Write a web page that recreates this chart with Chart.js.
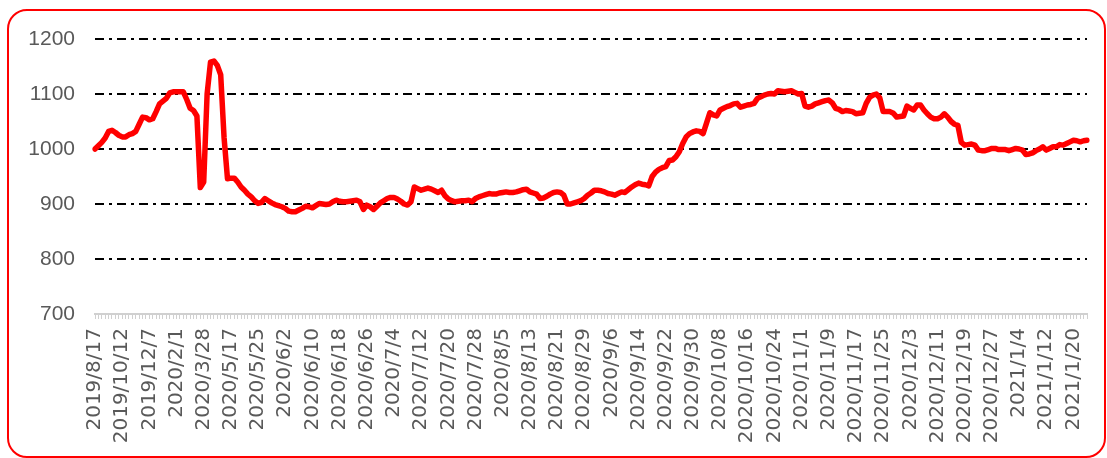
<!DOCTYPE html>
<html lang="zh">
<head>
<meta charset="UTF-8" />
<title>Index chart</title>
<script src="https://cdn.jsdelivr.net/npm/chart.js"></script>
<style>
  html, body { margin: 0; padding: 0; background: #fff; }
  .wrap { position: relative; width: 1107px; height: 458px; overflow: hidden; }
  .frame { position: absolute; left: 7px; top: 9px; width: 1095px; height: 445px;
           border: 2px solid #ff0000; border-radius: 20px; pointer-events: none; }
</style>
</head>
<body>
<div class="wrap">
  <canvas id="indexChart"></canvas>
  <div class="frame"></div>
</div>
<script>
// weekly dates up to mid May 2020, then daily dates
const weeklyDates = [
  '2019/8/17', '2019/8/24', '2019/8/31', '2019/9/7', '2019/9/14', '2019/9/21', '2019/9/28', '2019/10/5',
  '2019/10/12', '2019/10/19', '2019/10/26', '2019/11/2', '2019/11/9', '2019/11/16', '2019/11/23', '2019/11/30',
  '2019/12/7', '2019/12/14', '2019/12/21', '2019/12/28', '2020/1/4', '2020/1/11', '2020/1/18', '2020/1/25',
  '2020/2/1', '2020/2/8', '2020/2/15', '2020/2/22', '2020/2/29', '2020/3/7', '2020/3/14', '2020/3/21',
  '2020/3/28', '2020/4/4', '2020/4/11', '2020/4/18', '2020/4/25', '2020/5/2', '2020/5/9', '2020/5/16'
];
const dailyStart = [2020, 5, 17];
const dailyEnd = [2021, 1, 24];

// index values, one per date
const indexValues = [
  1000, 1006, 1012, 1020, 1032, 1034, 1030, 1025, 1022, 1022,
  1026, 1028, 1032, 1045, 1058, 1057, 1053, 1055, 1068, 1082,
  1087, 1092, 1102, 1104, 1104, 1104, 1104, 1090, 1074, 1070,
  1060, 930, 940, 1100, 1158, 1160, 1152, 1135, 1020, 946,
  947, 947, 940, 931, 925, 918, 913, 906, 901, 903,
  910, 906, 902, 899, 897, 895, 892, 887, 886, 886,
  889, 892, 896, 895, 893, 897, 901, 900, 899, 900,
  904, 907, 905, 904, 904, 905, 906, 907, 904, 890,
  898, 895, 890, 896, 902, 906, 910, 912, 912, 909,
  905, 900, 898, 904, 931, 928, 925, 927, 929, 927,
  924, 921, 925, 915, 909, 906, 904, 905, 906, 906,
  907, 904, 910, 913, 915, 917, 919, 918, 918, 920,
  921, 922, 921, 921, 922, 924, 926, 927, 922, 920,
  918, 910, 911, 914, 918, 921, 922, 921, 916, 900,
  900, 902, 904, 906, 910, 916, 920, 925, 925, 924,
  922, 919, 918, 916, 919, 922, 921, 926, 931, 935,
  938, 936, 935, 933, 950, 958, 963, 966, 968, 979,
  980, 986, 995, 1010, 1022, 1028, 1031, 1033, 1032, 1028,
  1047, 1066, 1062, 1060, 1071, 1074, 1077, 1079, 1082, 1083,
  1076, 1078, 1080, 1081, 1083, 1092, 1095, 1098, 1100, 1101,
  1100, 1106, 1105, 1104, 1105, 1106, 1103, 1100, 1101, 1078,
  1076, 1078, 1082, 1084, 1086, 1088, 1089, 1084, 1074, 1072,
  1068, 1070, 1069, 1068, 1064, 1065, 1066, 1083, 1094, 1098,
  1100, 1093, 1068, 1068, 1068, 1065, 1058, 1059, 1060, 1078,
  1074, 1071, 1080, 1080, 1071, 1064, 1058, 1055, 1055, 1058,
  1064, 1058, 1050, 1045, 1043, 1012, 1007, 1008, 1009, 1007,
  998, 997, 997, 999, 1001, 1001, 999, 999, 999, 997,
  999, 1001, 1000, 998, 990, 991, 993, 997, 1000, 1004,
  998, 1001, 1004, 1004, 1008, 1007, 1010, 1013, 1016, 1015,
  1013, 1015, 1016
];

const yTicks = [700, 800, 900, 1000, 1100, 1200];
const labelEvery = 8;

const dates = weeklyDates.slice();
const d = new Date(dailyStart[0], dailyStart[1] - 1, dailyStart[2]);
const last = new Date(dailyEnd[0], dailyEnd[1] - 1, dailyEnd[2]);
while (d <= last) {
    dates.push(d.getFullYear() + '/' + (d.getMonth() + 1) + '/' + d.getDate());
    d.setDate(d.getDate() + 1);
}

const ctx = document.getElementById('indexChart').getContext('2d');
new Chart(ctx, {
    type: 'line',
    data: {
        labels: dates,
        datasets: [{
            data: indexValues,
            borderColor: '#ff0000',
            borderWidth: 5.5,
            pointRadius: 0,
            tension: 0,
            borderJoinStyle: 'round',
            borderCapStyle: 'round',
            fill: false
        }]
    },
    options: {
        responsive: true,
        maintainAspectRatio: false,
        animation: false,
        layout: { padding: { left: 0, right: 20, top: 39, bottom: 0 } },
        plugins: {
            legend: { display: false },
            tooltip: { enabled: false }
        },
        scales: {
            x: {
                type: 'category',
                offset: false,
                grid: { drawOnChartArea: false, drawTicks: true, tickLength: 5, color: '#d0d0d0', lineWidth: 1 },
                border: { display: true, color: '#d0d0d0', width: 2 },
                ticks: {
                    autoSkip: false,
                    minRotation: 90,
                    maxRotation: 90,
                    padding: 9,
                    color: '#595959',
                    font: { family: 'DejaVu Sans', size: 20 },
                    callback: (v, i) => (i % labelEvery === 0 ? dates[i] : '')
                },
                afterFit: s => {
                    s.height = 144;
                    s.paddingLeft = 0;
                    s.paddingRight = 0;
                }
            },
            y: {
                min: yTicks[0],
                max: yTicks[yTicks.length - 1],
                afterBuildTicks: s => { s.ticks = yTicks.map(v => ({ value: v })); },
                ticks: {
                    padding: 20,
                    color: '#595959',
                    font: { family: 'Liberation Sans', size: 21 },
                    callback: v => String(v)
                },
                grid: {
                    drawTicks: false,
                    lineWidth: 2,
                    color: c => (c.tick && c.tick.value === yTicks[0] ? 'rgba(0,0,0,0)' : '#000000')
                },
                border: { display: false, dash: [9, 5, 3, 5] },
                afterFit: s => { s.width = 95; }
            }
        }
    }
});
</script>
</body>
</html>
